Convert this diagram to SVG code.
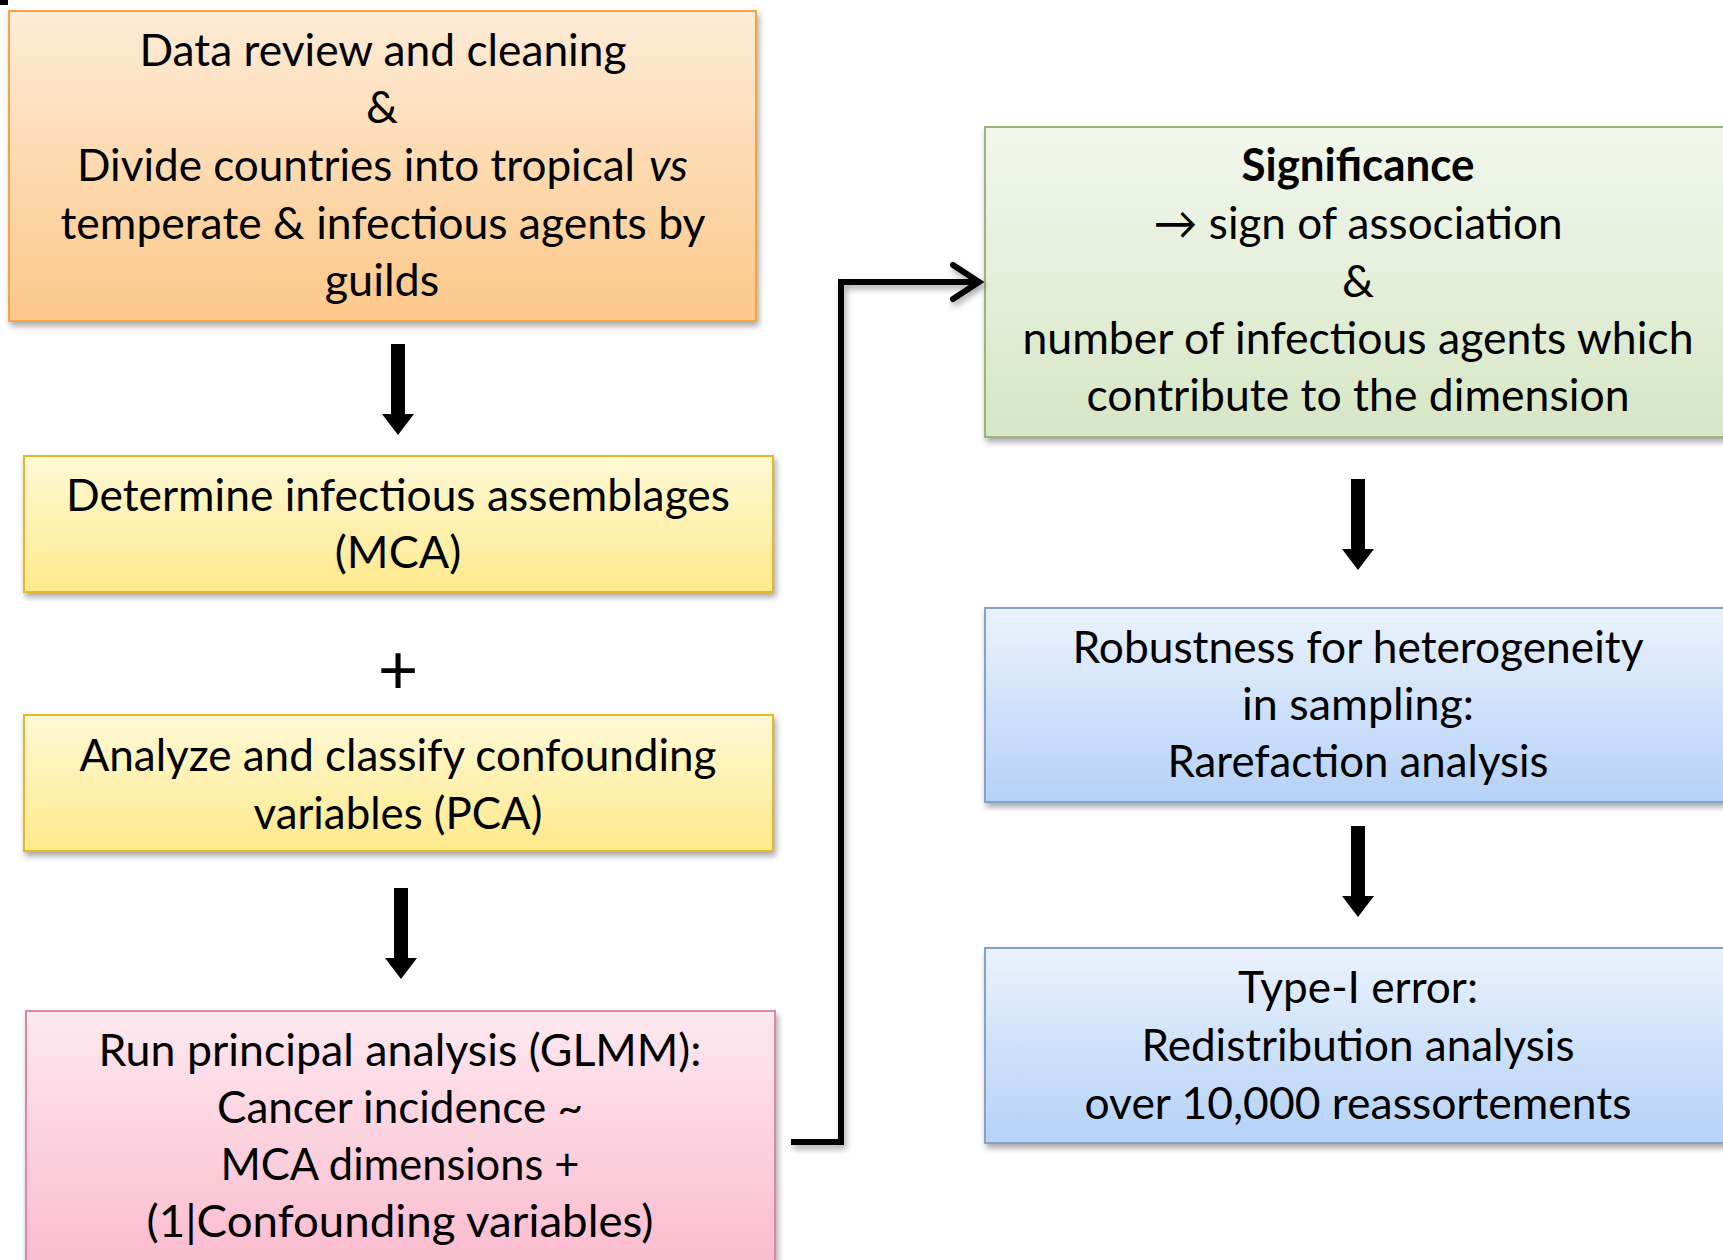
<svg xmlns="http://www.w3.org/2000/svg" width="1723" height="1260" viewBox="0 0 1723 1260">
<defs>
<linearGradient id="gOrange" x1="0" y1="0" x2="0" y2="1"><stop offset="0" stop-color="#fdebd6"/><stop offset="1" stop-color="#fcc889"/></linearGradient>
<linearGradient id="gYellow" x1="0" y1="0" x2="0" y2="1"><stop offset="0" stop-color="#fef9d6"/><stop offset="1" stop-color="#fee98a"/></linearGradient>
<linearGradient id="gPink" x1="0" y1="0" x2="0" y2="1"><stop offset="0" stop-color="#fde8ef"/><stop offset="1" stop-color="#fbb9cd"/></linearGradient>
<linearGradient id="gGreen" x1="0" y1="0" x2="0" y2="1"><stop offset="0" stop-color="#f1f7ec"/><stop offset="1" stop-color="#d7e6c5"/></linearGradient>
<linearGradient id="gBlue" x1="0" y1="0" x2="0" y2="1"><stop offset="0" stop-color="#eaf2fd"/><stop offset="1" stop-color="#b5d1f7"/></linearGradient>
<filter id="shadow" x="-5%" y="-5%" width="115%" height="120%"><feDropShadow dx="2" dy="4" stdDeviation="3" flood-color="#000" flood-opacity="0.35"/></filter>
</defs>
<style>
text{font-family:Lato,"Liberation Sans",sans-serif;font-size:45px;fill:#000;text-anchor:middle}
.b{font-weight:bold}
.l{text-anchor:start}
.box{stroke-width:2}
.blk{fill:#000}
.conn{fill:none;stroke:#000;stroke-width:6;stroke-linejoin:miter}
</style>
<rect x="0" y="0" width="8" height="5" fill="#000"/>

<g id="node-data-review">
<rect class="box" x="9" y="11" width="747" height="310" fill="url(#gOrange)" stroke="#f5a445" filter="url(#shadow)"/>
<text x="383" y="66" textLength="487" lengthAdjust="spacingAndGlyphs">Data review and cleaning</text>
<text x="382" y="123">&amp;</text>
<text x="77" y="181" class="l" textLength="558" lengthAdjust="spacingAndGlyphs">Divide countries into tropical</text>
<text x="649" y="181" class="l" font-style="italic" textLength="39" lengthAdjust="spacingAndGlyphs">vs</text>
<text x="383" y="239" textLength="645" lengthAdjust="spacingAndGlyphs">temperate &amp; infectious agents by</text>
<text x="382" y="296">guilds</text>
</g>

<g id="node-mca">
<rect class="box" x="24" y="456" width="749" height="136" fill="url(#gYellow)" stroke="#e6b825" filter="url(#shadow)"/>
<text x="398" y="511" textLength="664" lengthAdjust="spacingAndGlyphs">Determine infectious assemblages</text>
<text x="398" y="568">(MCA)</text>
</g>

<g id="plus">
<text x="398" y="694" style="font-size:70px">+</text>
</g>

<g id="node-pca">
<rect class="box" x="24" y="715" width="749" height="136" fill="url(#gYellow)" stroke="#e6b825" filter="url(#shadow)"/>
<text x="398" y="771" textLength="637" lengthAdjust="spacingAndGlyphs">Analyze and classify confounding</text>
<text x="398" y="829" textLength="289" lengthAdjust="spacingAndGlyphs">variables (PCA)</text>
</g>

<g id="node-glmm">
<rect class="box" x="26" y="1011" width="749" height="270" fill="url(#gPink)" stroke="#d98aa2" filter="url(#shadow)"/>
<text x="400" y="1066" textLength="603" lengthAdjust="spacingAndGlyphs">Run principal analysis (GLMM):</text>
<text x="400" y="1123" textLength="366" lengthAdjust="spacingAndGlyphs">Cancer incidence ~</text>
<text x="400" y="1180" textLength="359" lengthAdjust="spacingAndGlyphs">MCA dimensions +</text>
<text x="400" y="1237" textLength="507" lengthAdjust="spacingAndGlyphs">(1|Confounding variables)</text>
</g>

<g id="node-significance">
<rect class="box" x="985" y="127" width="750" height="310" fill="url(#gGreen)" stroke="#9ab67c" filter="url(#shadow)"/>
<text x="1358" y="181" class="b" textLength="233" lengthAdjust="spacingAndGlyphs">Significance</text>
<text x="1358" y="239" textLength="409" lengthAdjust="spacingAndGlyphs">→ sign of association</text>
<text x="1358" y="297">&amp;</text>
<text x="1358" y="354" textLength="671" lengthAdjust="spacingAndGlyphs">number of infectious agents which</text>
<text x="1358" y="411" textLength="543" lengthAdjust="spacingAndGlyphs">contribute to the dimension</text>
</g>

<g id="node-rarefaction">
<rect class="box" x="985" y="608" width="750" height="194" fill="url(#gBlue)" stroke="#84a3cb" filter="url(#shadow)"/>
<text x="1358" y="663" textLength="571" lengthAdjust="spacingAndGlyphs">Robustness for heterogeneity</text>
<text x="1358" y="720" textLength="232" lengthAdjust="spacingAndGlyphs">in sampling:</text>
<text x="1358" y="777" textLength="381" lengthAdjust="spacingAndGlyphs">Rarefaction analysis</text>
</g>

<g id="node-redistribution">
<rect class="box" x="985" y="948" width="750" height="195" fill="url(#gBlue)" stroke="#84a3cb" filter="url(#shadow)"/>
<text x="1358" y="1003" textLength="240" lengthAdjust="spacingAndGlyphs">Type-I error:</text>
<text x="1358" y="1061" textLength="433" lengthAdjust="spacingAndGlyphs">Redistribution analysis</text>
<text x="1358" y="1119" textLength="547" lengthAdjust="spacingAndGlyphs">over 10,000 reassortements</text>
</g>

<g id="connectors">
<path class="blk" d="M391,344 H405 V414 H414 L398,435 L382,414 H391 Z"/>
<path class="blk" d="M394,888 H408 V958 H417 L401,979 L385,958 H394 Z"/>
<path class="blk" d="M1351,479 H1365 V549 H1374 L1358,570 L1342,549 H1351 Z"/>
<path class="blk" d="M1351,826 H1365 V896 H1374 L1358,917 L1342,896 H1351 Z"/>
<g filter="url(#shadow)">
<path class="conn" d="M791,1142 H841 V282 H978"/>
<path class="conn" d="M953,265 L979,282 L953,299" stroke-linecap="round"/>
</g>
</g>
</svg>
